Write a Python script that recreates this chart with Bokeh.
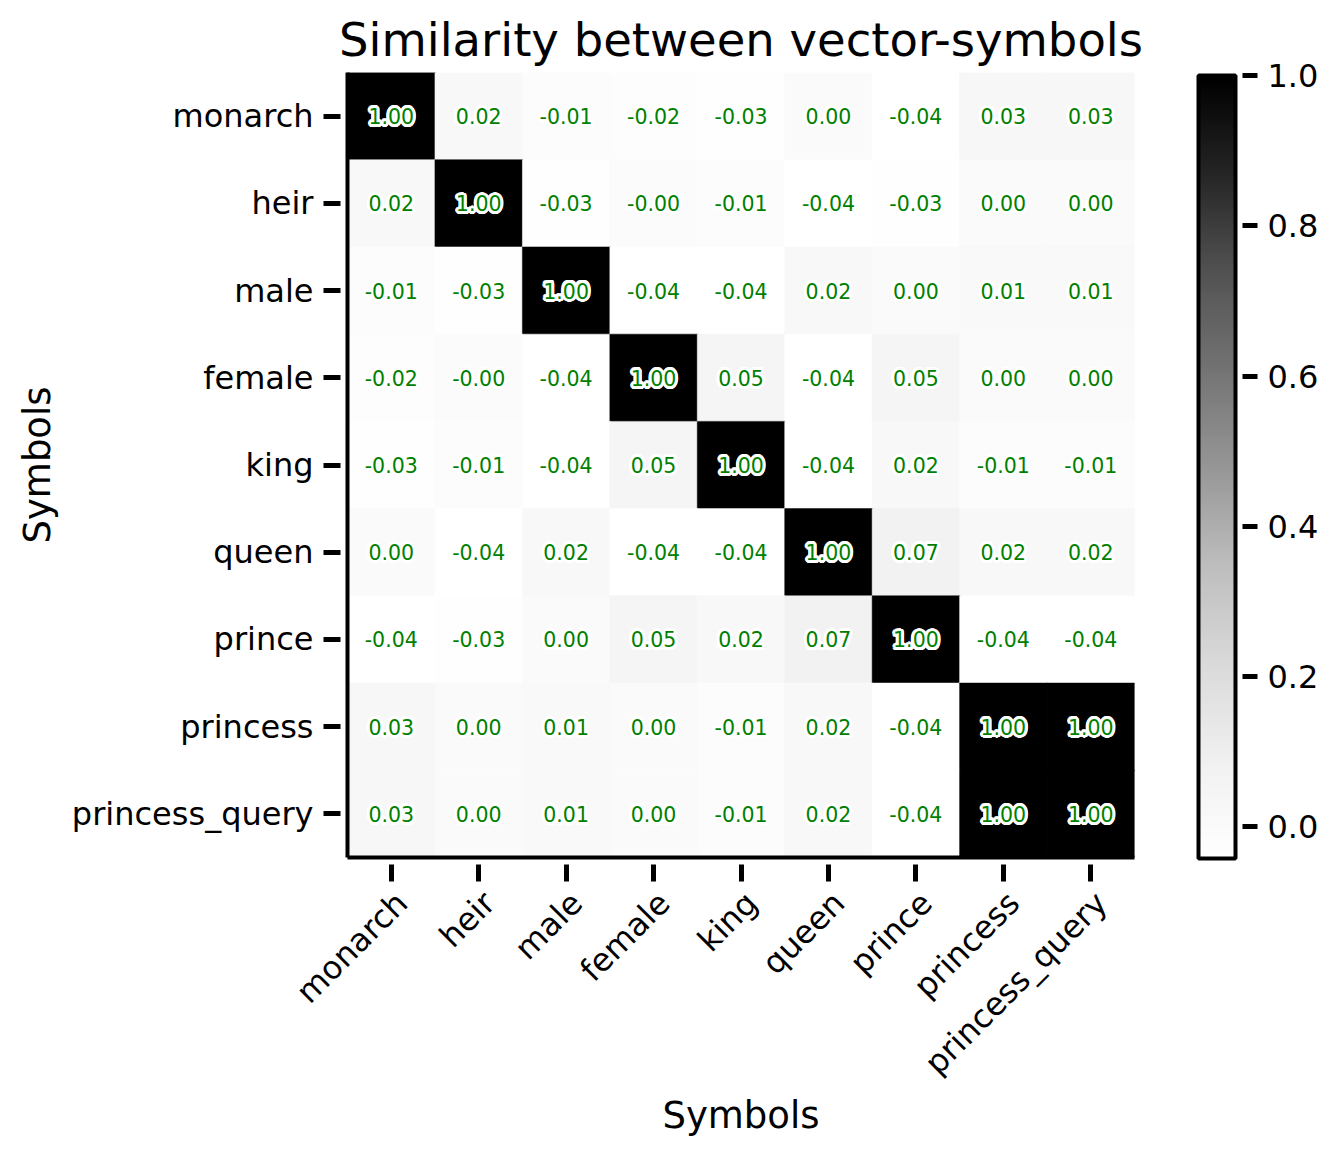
import math
from bokeh.plotting import figure
from bokeh.models import (ColumnDataSource, LinearColorMapper, ColorBar, FixedTicker,
                          PrintfTickFormatter, FactorRange, Range1d, LinearAxis)
from bokeh.core.properties import value
from bokeh.embed import file_html
from bokeh.resources import INLINE

# ---------------- data ----------------
symbols = ["monarch", "heir", "male", "female", "king", "queen", "prince",
           "princess", "princess_query"]

row_monarch = [1.00, 0.02, -0.01, -0.02, -0.03, 0.00, -0.04, 0.03, 0.03]
row_heir = [0.02, 1.00, -0.03, -0.003, -0.01, -0.04, -0.03, 0.00, 0.00]
row_male = [-0.01, -0.03, 1.00, -0.04, -0.04, 0.02, 0.00, 0.01, 0.01]
row_female = [-0.02, -0.003, -0.04, 1.00, 0.05, -0.04, 0.05, 0.00, 0.00]
row_king = [-0.03, -0.01, -0.04, 0.05, 1.00, -0.04, 0.02, -0.01, -0.01]
row_queen = [0.00, -0.04, 0.02, -0.04, -0.04, 1.00, 0.07, 0.02, 0.02]
row_prince = [-0.04, -0.03, 0.00, 0.05, 0.02, 0.07, 1.00, -0.04, -0.04]
row_princess = [0.03, 0.00, 0.01, 0.00, -0.01, 0.02, -0.04, 1.00, 1.00]
row_princess_query = [0.03, 0.00, 0.01, 0.00, -0.01, 0.02, -0.04, 1.00, 1.00]

rows = [row_monarch, row_heir, row_male, row_female, row_king, row_queen,
        row_prince, row_princess, row_princess_query]

colorbar_ticks = [0.0, 0.2, 0.4, 0.6, 0.8, 1.0]

# ---------------- source ----------------
n = len(symbols)
xs, ys, vals, labels = [], [], [], []
for rname, row in zip(symbols, rows):
    for ci, v in enumerate(row):
        xs.append(ci)               # column index of the symbol
        ys.append(rname)
        vals.append(v)
        labels.append(f"{v:.2f}")
src = ColumnDataSource(dict(x=xs, y=ys, val=vals, label=labels))

all_vals = [v for r in rows for v in r]

# matplotlib "Greys" colormap (ColorBrewer control colours), white -> black
greys_ctrl = [255, 240, 217, 189, 150, 115, 82, 37, 0]
palette = []
for k in range(256):
    f = k / 255 * (len(greys_ctrl) - 1)
    i = min(int(f), len(greys_ctrl) - 2)
    t = f - i
    g = round(greys_ctrl[i] + (greys_ctrl[i + 1] - greys_ctrl[i]) * t)
    palette.append("#%02x%02x%02x" % (g, g, g))
mapper = LinearColorMapper(palette=palette, low=min(all_vals) - 0.002, high=max(all_vals))

FONT = "DejaVu Sans"

p = figure(x_range=Range1d(-0.5, n - 0.5), y_range=FactorRange(*symbols[::-1]),
           frame_width=787, frame_height=785,
           min_border_left=347, min_border_top=72, min_border_right=190,
           min_border_bottom=280,
           output_backend="svg", toolbar_location=None,
           title="Similarity between vector-symbols",
           y_axis_label="Symbols")

p.rect(x="x", y="y", width=1, height=1, source=src, dilate=True,
       fill_color={"field": "val", "transform": mapper},
       line_color={"field": "val", "transform": mapper}, line_width=0.5)

# white halo behind annotation texts
halo = []
for k in range(16):
    a = 2 * math.pi * k / 16
    halo.append((3.0 * math.cos(a), 3.0 * math.sin(a)))
for k in range(8):
    a = 2 * math.pi * k / 8 + 0.2
    halo.append((1.5 * math.cos(a), 1.5 * math.sin(a)))
for dx, dy in halo:
    p.text(x="x", y="y", text="label", source=src, x_offset=dx, y_offset=dy,
           text_color="white", text_font=value(FONT), text_font_size="20.5px",
           text_align="center", text_baseline="middle")
p.text(x="x", y="y", text="label", source=src,
       text_color="#008000", text_font=value(FONT), text_font_size="20.5px",
       text_align="center", text_baseline="middle")

# ---------------- styling ----------------
p.title.text_font = FONT
p.title.text_font_size = "46.5px"
p.title.text_font_style = "normal"
p.title.align = "center"
p.title.text_color = "black"
p.title.standoff = 12

xax = p.xaxis[0]
yax = p.yaxis[0]
for ax in (xax, yax):
    ax.axis_line_width = 4
    ax.axis_line_color = "black"
    ax.major_tick_line_width = 5
    ax.major_tick_line_color = "black"
    ax.major_tick_in = -7
    ax.major_tick_out = 24
    ax.minor_tick_line_color = None
    ax.major_label_text_font = FONT
    ax.major_label_text_font_size = "32px"
    ax.major_label_text_color = "black"
    ax.major_label_standoff = 10

yax.axis_label_text_font = FONT
yax.axis_label_text_font_size = "37px"
yax.axis_label_text_font_style = "normal"
yax.axis_label_text_color = "black"
yax.axis_label_standoff = 10

# tick marks on the main x axis; rotated names on a companion axis below
xax.ticker = FixedTicker(ticks=list(range(n)))
xax.major_label_overrides = {i: "" for i in range(n)}
xax.major_label_text_font_size = "1px"
xax.major_label_standoff = 0

shift = 0.12
p.extra_x_ranges = {"names": Range1d(start=-0.5 - shift, end=n - 0.5 - shift)}
name_axis = LinearAxis(x_range_name="names",
                       ticker=FixedTicker(ticks=list(range(n))),
                       major_label_overrides={i: s for i, s in enumerate(symbols)},
                       axis_line_color=None, major_tick_line_color=None,
                       minor_tick_line_color=None,
                       major_tick_in=0, major_tick_out=0,
                       major_label_standoff=16,
                       major_label_orientation=math.pi / 4,
                       major_label_text_font=FONT, major_label_text_font_size="32px",
                       major_label_text_color="black",
                       axis_label="Symbols", axis_label_text_font=FONT,
                       axis_label_text_font_size="37px",
                       axis_label_text_font_style="normal",
                       axis_label_text_color="black", axis_label_standoff=-4)
p.add_layout(name_axis, "below")

p.xgrid.visible = False
p.ygrid.visible = False
p.outline_line_color = None
p.background_fill_color = "white"
p.border_fill_color = "white"

cb = ColorBar(color_mapper=mapper,
              ticker=FixedTicker(ticks=colorbar_ticks),
              formatter=PrintfTickFormatter(format="%.1f"),
              major_label_text_font=FONT, major_label_text_font_size="32px",
              major_label_text_color="black",
              major_tick_line_color="black", major_tick_line_width=5,
              major_tick_in=-7, major_tick_out=22,
              minor_tick_line_color=None,
              bar_line_color="black", bar_line_width=4,
              width=37, height=783, padding=0, margin=0,
              label_standoff=10, location=(64, -1),
              background_fill_color=None, border_line_color=None)
p.add_layout(cb, "right")

open("out.html", "w").write(file_html(p, INLINE))
